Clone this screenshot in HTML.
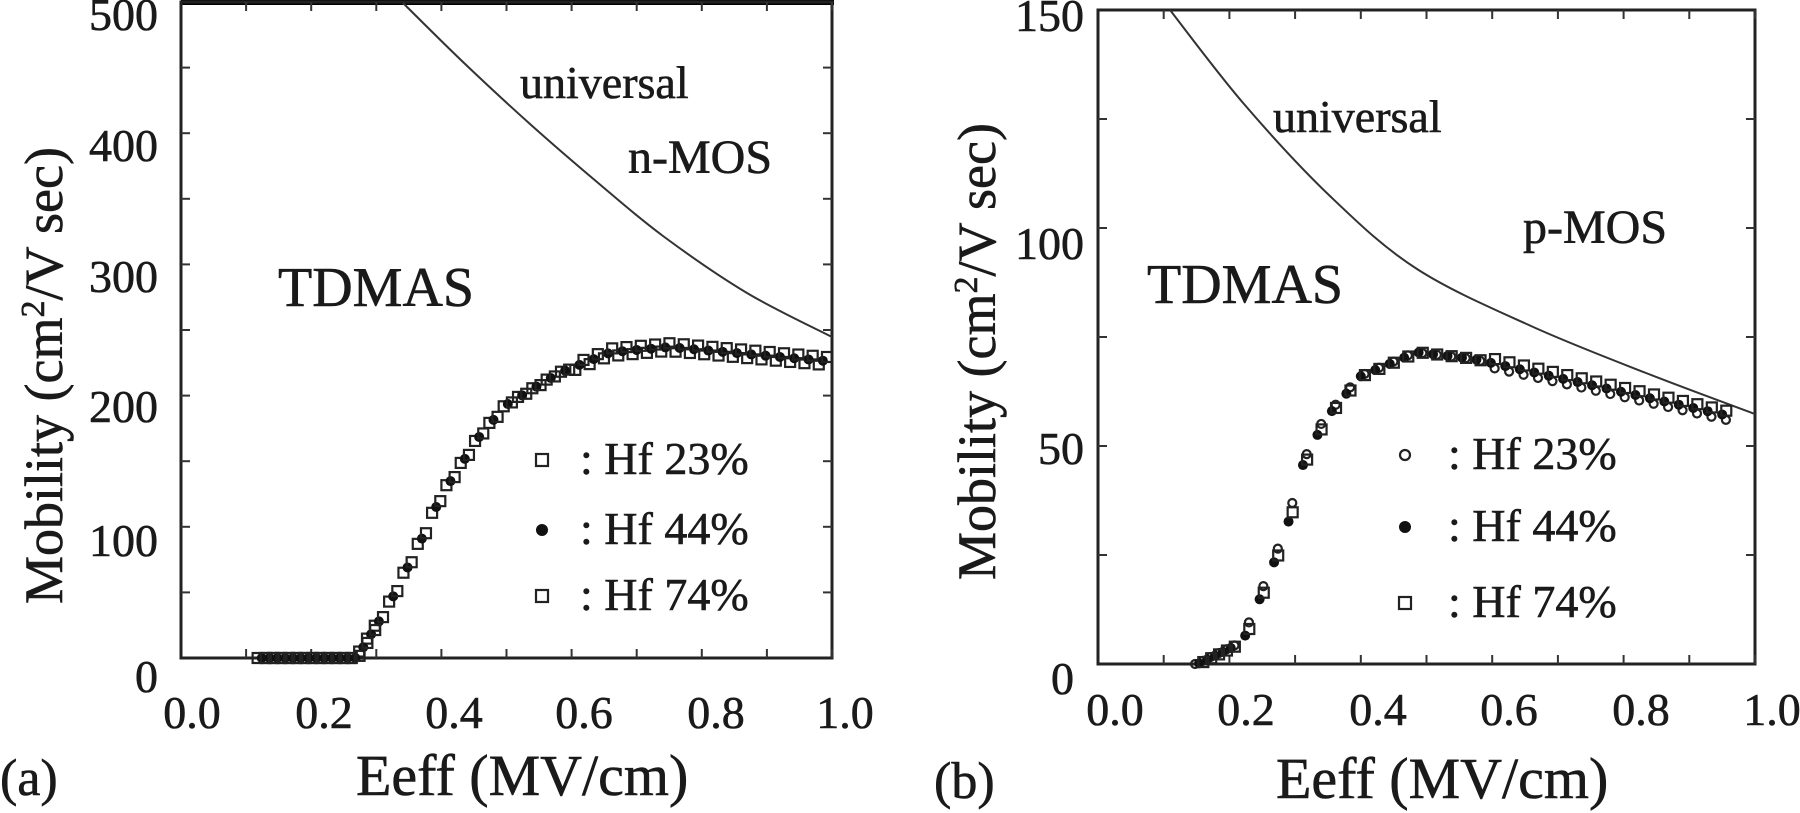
<!DOCTYPE html>
<html><head><meta charset="utf-8"><style>
html,body{margin:0;padding:0;background:#fff;}
svg{display:block;}
text{font-family:"Liberation Serif",serif;fill:#1a1a1a;stroke:#1a1a1a;stroke-width:0.6;}
</style></head><body>
<svg id="s" width="1800" height="813" viewBox="0 0 1800 813" xmlns="http://www.w3.org/2000/svg">
<g id="g"></g>
<g font-size="46">
<text x="158" y="30" text-anchor="end">500</text>
<text x="158" y="161" text-anchor="end">400</text>
<text x="158" y="292" text-anchor="end">300</text>
<text x="158" y="422" text-anchor="end">200</text>
<text x="158" y="556" text-anchor="end">100</text>
<text x="158" y="692" text-anchor="end">0</text>
<text x="192" y="728" text-anchor="middle">0.0</text>
<text x="324" y="728" text-anchor="middle">0.2</text>
<text x="454" y="728" text-anchor="middle">0.4</text>
<text x="584" y="728" text-anchor="middle">0.6</text>
<text x="716" y="728" text-anchor="middle">0.8</text>
<text x="845" y="728" text-anchor="middle">1.0</text>
</g>
<text x="0" y="795" font-size="52">(a)</text>
<text x="356" y="795" font-size="58">Eeff (MV/cm)</text>
<text transform="translate(62,604) rotate(-90)" font-size="54">Mobility (cm<tspan dy="-18" font-size="34">2</tspan><tspan dy="18">/V sec)</tspan></text>
<text x="520" y="98" font-size="46">universal</text>
<text x="628" y="173" font-size="48">n-MOS</text>
<text x="278" y="306" font-size="56">TDMAS</text>
<g font-size="46">
<text x="580" y="474">: Hf 23%</text>
<text x="580" y="544">: Hf 44%</text>
<text x="580" y="610">: Hf 74%</text>
</g>
<g font-size="46">
<text x="1084" y="31" text-anchor="end">150</text>
<text x="1084" y="259" text-anchor="end">100</text>
<text x="1084" y="464" text-anchor="end">50</text>
<text x="1074" y="694" text-anchor="end">0</text>
<text x="1115" y="725" text-anchor="middle">0.0</text>
<text x="1246" y="725" text-anchor="middle">0.2</text>
<text x="1378" y="725" text-anchor="middle">0.4</text>
<text x="1509" y="725" text-anchor="middle">0.6</text>
<text x="1641" y="725" text-anchor="middle">0.8</text>
<text x="1772" y="725" text-anchor="middle">1.0</text>
</g>
<text x="934" y="798" font-size="52">(b)</text>
<text x="1276" y="798" font-size="58">Eeff (MV/cm)</text>
<text transform="translate(995,580) rotate(-90)" font-size="54">Mobility (cm<tspan dy="-18" font-size="34">2</tspan><tspan dy="18">/V sec)</tspan></text>
<text x="1273" y="132" font-size="46">universal</text>
<text x="1523" y="243" font-size="48">p-MOS</text>
<text x="1147" y="303" font-size="56">TDMAS</text>
<g font-size="46">
<text x="1448" y="469">: Hf 23%</text>
<text x="1448" y="541">: Hf 44%</text>
<text x="1448" y="617">: Hf 74%</text>
</g>
</svg>
<script>
var g=document.getElementById('g'),NS='http://www.w3.org/2000/svg';
function el(t,a){var e=document.createElementNS(NS,t);for(var k in a)e.setAttribute(k,a[k]);g.appendChild(e);return e;}
function interp(tab,x){for(var i=0;i<tab.length-1;i++){if(x<=tab[i+1][0]){var a=tab[i],b=tab[i+1];return a[1]+(b[1]-a[1])*(x-a[0])/(b[0]-a[0]);}}return tab[tab.length-1][1];}
function cr(p){var d='M'+p[0][0]+','+p[0][1];for(var i=0;i<p.length-1;i++){var p0=p[Math.max(0,i-1)],p1=p[i],p2=p[i+1],p3=p[Math.min(p.length-1,i+2)];
 d+=' C'+(p1[0]+(p2[0]-p0[0])/6)+','+(p1[1]+(p2[1]-p0[1])/6)+' '+(p2[0]-(p3[0]-p1[0])/6)+','+(p2[1]-(p3[1]-p1[1])/6)+' '+p2[0]+','+p2[1];}return d;}
function marker(type,x,y,s){
 if(type==0) el('rect',{x:x-s/2,y:y-s/2,width:s,height:s,fill:'none',stroke:'#222','stroke-width':2.2});
 else if(type==1) el('circle',{cx:x,cy:y,r:s/2,fill:'#111'});
 else el('circle',{cx:x,cy:y,r:s/2-1,fill:'none',stroke:'#222','stroke-width':2.2});
}
function panel(P){
 el('rect',{x:P.x0,y:P.y1,width:P.x1-P.x0,height:P.y0-P.y1,fill:'none',stroke:'#222','stroke-width':3});
 for(var e=0.1;e<1;e+=0.1){var x=P.x0+e*(P.x1-P.x0);
  el('line',{x1:x,y1:P.y0,x2:x,y2:P.y0-9,stroke:'#333','stroke-width':2});
  el('line',{x1:x,y1:P.y1,x2:x,y2:P.y1+9,stroke:'#333','stroke-width':2});}
 for(var m=P.ystep;m<P.ymax;m+=P.ystep){var y=P.y0-m*(P.y0-P.y1)/P.ymax;
  el('line',{x1:P.x0,y1:y,x2:P.x0+9,y2:y,stroke:'#333','stroke-width':2});
  el('line',{x1:P.x1,y1:y,x2:P.x1-9,y2:y,stroke:'#333','stroke-width':2});}
 el('path',{d:cr(P.uni),fill:'none',stroke:'#333','stroke-width':2});
 var sx=function(E){return P.x0+E*(P.x1-P.x0)}, sy=function(m){return P.y0-m*(P.y0-P.y1)/P.ymax};
 for(var t=0;t<3;t++){
  var E=P.start+t*0.004;
  while(E<=P.end){
   var mu=interp(P.data,E)+(t-1)*P.spread*(E>0.6?1:0);
   marker(P.types[t],sx(E)+(t-1)*1.5,sy(mu),P.ms);
   E+= (E<P.rise?0.012:0.022);
  }
 }
 for(var i=0;i<3;i++) marker(P.types[i],P.lx,P.ly[i]-14,P.ms+2);
}
el('line',{x1:181,y1:2,x2:834,y2:2,stroke:'#000','stroke-width':6});
panel({x0:181,x1:832,y0:658,y1:2,ymax:500,ystep:50,ms:10,spread:3,types:[0,1,0],
 uni:[[403,3],[463,62],[530,124],[597,182],[663,236],[747,293],[832,337]],
 data:[[0,0],[0.27,0],[0.32,41],[0.373,94],[0.40,124],[0.435,151],[0.46,170],[0.50,193],[0.58,217],[0.66,233],[0.75,237],[0.93,229],[1.0,226]],
 start:0.12,end:1.0,rise:0.3,lx:542,ly:[474,544,610]});
panel({x0:1098,x1:1755,y0:664,y1:10,ymax:150,ystep:25,ms:10,spread:1,types:[2,1,0],
 uni:[[1170,10],[1244,104],[1331,197],[1417,269],[1531,326],[1646,373],[1755,414]],
 data:[[0,0],[0.152,0],[0.22,5],[0.257,19],[0.285,30],[0.30,38],[0.31,45],[0.345,56],[0.40,66],[0.485,71.5],[0.57,70],[0.75,64],[0.957,57]],
 start:0.15,end:0.96,rise:0.2,lx:1405,ly:[469,541,617]});
</script>
</body></html>
